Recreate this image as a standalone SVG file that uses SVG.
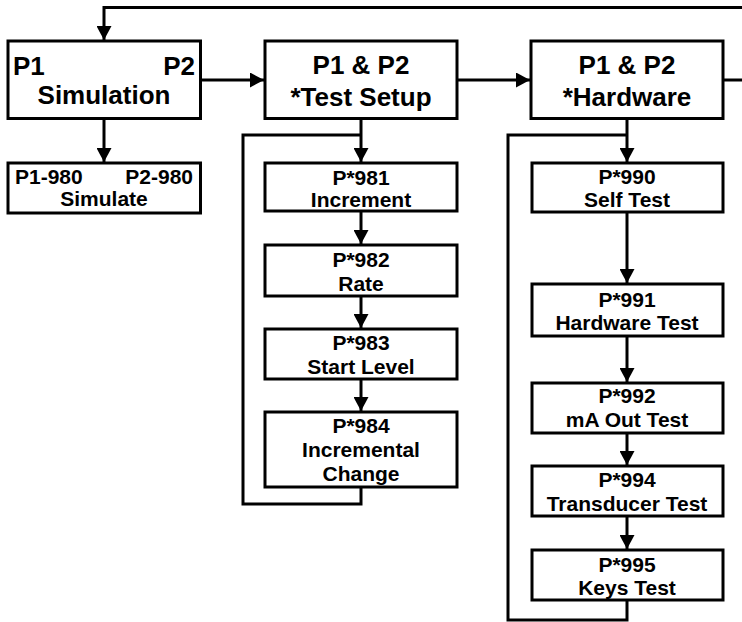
<svg xmlns="http://www.w3.org/2000/svg" width="742" height="622" viewBox="0 0 742 622">
<defs>
<style>
.box{fill:#fff;stroke:#000;stroke-width:3}
.ln{fill:none;stroke:#000;stroke-width:3}
.t{font-family:"Liberation Sans",Arial,sans-serif;font-weight:bold;fill:#000;text-anchor:middle}
.big{font-size:26px}
.sm{font-size:21px}
.s{text-anchor:start}
.e{text-anchor:end}
</style>
<marker id="ah" viewBox="0 0 14 15" refX="14" refY="7.5" markerWidth="14" markerHeight="15" markerUnits="userSpaceOnUse" orient="auto">
<path d="M0,0 L14,7.5 L0,15 z" fill="#000"/>
</marker>
</defs>
<rect width="742" height="622" fill="#fff"/>
<g id="connectors">
<path class="ln" d="M742 7.5 H104 V40" marker-end="url(#ah)"/>
<path class="ln" d="M200 80 H264" marker-end="url(#ah)"/>
<path class="ln" d="M104 118 V162" marker-end="url(#ah)"/>
<path class="ln" d="M457 80 H530" marker-end="url(#ah)"/>
<path class="ln" d="M723 80 H742"/>
<path class="ln" d="M361 118 V162" marker-end="url(#ah)"/>
<path class="ln" d="M361 487 V504 H243 V135 H361"/>
<path class="ln" d="M361 211 V244" marker-end="url(#ah)"/>
<path class="ln" d="M361 296 V328" marker-end="url(#ah)"/>
<path class="ln" d="M361 379 V411" marker-end="url(#ah)"/>
<path class="ln" d="M627 118 V162" marker-end="url(#ah)"/>
<path class="ln" d="M627 600 V620 H508 V135 H627"/>
<path class="ln" d="M627 212 V283" marker-end="url(#ah)"/>
<path class="ln" d="M627 336 V382" marker-end="url(#ah)"/>
<path class="ln" d="M627 433 V465" marker-end="url(#ah)"/>
<path class="ln" d="M627 516 V549" marker-end="url(#ah)"/>
</g>
<g id="simulation">
<rect class="box" x="8" y="41" width="192.5" height="77.5"/>
<text class="t big s" x="13" y="75">P1</text>
<text class="t big e" x="195" y="75">P2</text>
<text class="t big" x="104" y="104">Simulation</text>
</g>
<g id="simulate">
<rect class="box" x="8" y="163" width="192.5" height="50"/>
<text class="t sm s" x="15" y="184">P1-980</text>
<text class="t sm e" x="193" y="184">P2-980</text>
<text class="t sm" x="104" y="206">Simulate</text>
</g>
<g id="test-setup">
<rect class="box" x="265" y="41" width="192" height="77.5"/>
<text class="t big" x="361" y="74">P1 &amp; P2</text>
<text class="t big" x="361" y="106">*Test Setup</text>
</g>
<g id="p981">
<rect class="box" x="265" y="163" width="192" height="48"/>
<text class="t sm" x="361" y="185">P*981</text>
<text class="t sm" x="361" y="207">Increment</text>
</g>
<g id="p982">
<rect class="box" x="265" y="245" width="192" height="51"/>
<text class="t sm" x="361" y="267">P*982</text>
<text class="t sm" x="361" y="291">Rate</text>
</g>
<g id="p983">
<rect class="box" x="265" y="329" width="192" height="50"/>
<text class="t sm" x="361" y="350">P*983</text>
<text class="t sm" x="361" y="374">Start Level</text>
</g>
<g id="p984">
<rect class="box" x="265" y="412" width="192" height="75"/>
<text class="t sm" x="361" y="433">P*984</text>
<text class="t sm" x="361" y="457">Incremental</text>
<text class="t sm" x="361" y="481">Change</text>
</g>
<g id="hardware">
<rect class="box" x="531" y="41" width="192" height="77.5"/>
<text class="t big" x="627" y="74">P1 &amp; P2</text>
<text class="t big" x="627" y="106">*Hardware</text>
</g>
<g id="p990">
<rect class="box" x="532" y="163" width="191" height="49"/>
<text class="t sm" x="627" y="184">P*990</text>
<text class="t sm" x="627" y="207">Self Test</text>
</g>
<g id="p991">
<rect class="box" x="532" y="284" width="191" height="52"/>
<text class="t sm" x="627" y="307">P*991</text>
<text class="t sm" x="627" y="330">Hardware Test</text>
</g>
<g id="p992">
<rect class="box" x="532" y="383" width="191" height="50"/>
<text class="t sm" x="627" y="403">P*992</text>
<text class="t sm" x="627" y="427">mA Out Test</text>
</g>
<g id="p994">
<rect class="box" x="532" y="466" width="191" height="50"/>
<text class="t sm" x="627" y="487">P*994</text>
<text class="t sm" x="627" y="511">Transducer Test</text>
</g>
<g id="p995">
<rect class="box" x="532" y="550" width="191" height="50"/>
<text class="t sm" x="627" y="572">P*995</text>
<text class="t sm" x="627" y="595">Keys Test</text>
</g>
</svg>
